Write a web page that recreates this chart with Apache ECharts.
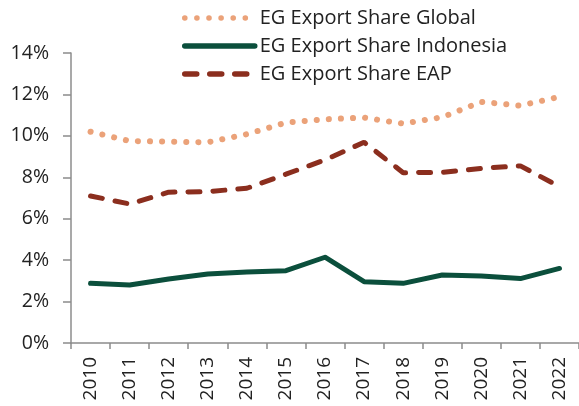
<!DOCTYPE html>
<html><head><meta charset="utf-8">
<script src="https://cdn.jsdelivr.net/npm/echarts@6/dist/echarts.min.js"></script>
<style>html,body{margin:0;padding:0;background:#fff}#c{width:579px;height:406px}</style>
</head><body><div id="c"></div>
<script>
const years = ['2010','2011','2012','2013','2014','2015','2016','2017','2018','2019','2020','2021','2022'];
const globalShare = [10.2, 9.75, 9.72, 9.69, 10.08, 10.64, 10.8, 10.88, 10.59, 10.9, 11.64, 11.46, 11.88];
const indonesiaShare = [2.88, 2.80, 3.09, 3.33, 3.43, 3.49, 4.14, 2.96, 2.88, 3.28, 3.24, 3.11, 3.6];
const eapShare = [7.1, 6.71, 7.28, 7.31, 7.47, 8.15, 8.84, 9.69, 8.22, 8.24, 8.43, 8.55, 7.55];
const yTicks = ['0%','2%','4%','6%','8%','10%','12%','14%'];

const font = "'Open Sans', 'Noto Sans', sans-serif";
const txt = '#222222';
const chart = echarts.init(document.getElementById('c'), null, {renderer:'canvas'});
chart.setOption({
  animation:false,
  textStyle:{fontFamily:font},
  grid:{left:71, right:-2, top:53, bottom:63, containLabel:false},
  legend:{
    orient:'vertical', left:177, top:3, itemWidth:70, itemHeight:14, itemGap:8,
    itemStyle:{color:'rgba(0,0,0,0)', borderWidth:0, borderColor:'rgba(0,0,0,0)'},
    lineStyle:{width:5.5},
    textStyle:{fontSize:20, color:txt, fontFamily:font},
    data:['EG Export Share Global','EG Export Share Indonesia','EG Export Share EAP']
  },
  xAxis:{
    type:'category', data:years, boundaryGap:true,
    axisLine:{lineStyle:{color:'#8c8c8c', width:1.5}},
    axisTick:{show:true, length:6, lineStyle:{color:'#8c8c8c', width:1.5}},
    axisLabel:{rotate:90, fontSize:19, color:txt, margin:14, fontFamily:font}
  },
  yAxis:{
    type:'value', min:0, max:14, interval:2,
    axisLine:{show:true, lineStyle:{color:'#8c8c8c', width:1.5}},
    axisTick:{show:true, length:8, lineStyle:{color:'#8c8c8c', width:1.5}},
    splitLine:{show:false},
    axisLabel:{fontSize:19.5, color:txt, margin:22, fontFamily:font,
      formatter:(v)=>yTicks[Math.round(v/2)]}
  },
  series:[
    {name:'EG Export Share Global', type:'line', data:globalShare, symbol:'none',
     lineStyle:{color:'#EBA279', width:6, type:[0.1,12], cap:'round'}, itemStyle:{color:'#EBA279'}},
    {name:'EG Export Share Indonesia', type:'line', data:indonesiaShare, symbol:'none',
     lineStyle:{color:'#0B4F3C', width:5, cap:'round', join:'round'}, itemStyle:{color:'#0B4F3C'}},
    {name:'EG Export Share EAP', type:'line', data:eapShare, symbol:'none',
     lineStyle:{color:'#8B2E1E', width:5, type:[12,13], cap:'round'}, itemStyle:{color:'#8B2E1E'}}
  ]
});
</script></body></html>
